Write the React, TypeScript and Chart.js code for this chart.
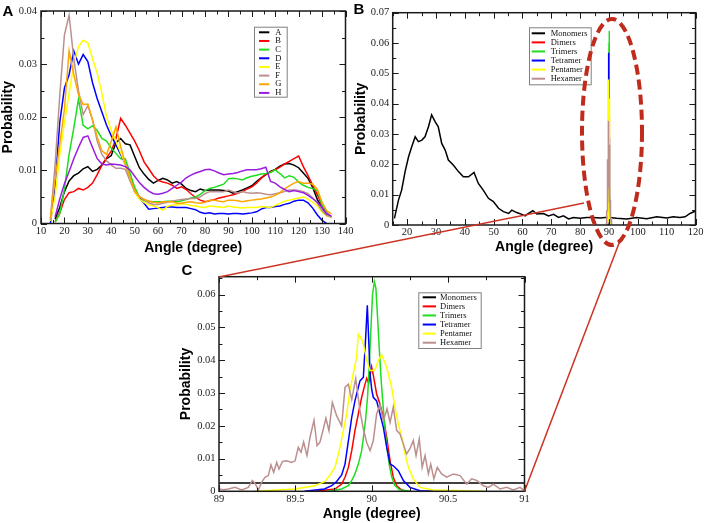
import React, { useEffect, useRef } from 'react';
import { Chart, registerables } from 'chart.js';

Chart.register(...registerables);

// ---------------- Panel A data ----------------
const A_ANGLES = [14, 16, 18, 20, 22, 24, 26, 28, 30, 32, 34, 36, 38, 40, 42, 44, 46, 48, 50, 52, 54, 56, 58, 60, 62, 64, 66, 68, 70, 72, 74, 76, 78, 80, 82, 84, 86, 88, 90, 92, 94, 96, 98, 100, 102, 104, 106, 108, 110, 112, 114, 116, 118, 120, 122, 124, 126, 128, 130, 132, 134];
const A_SERIES_A = [null, 0.0008, 0.003, 0.006, 0.008, 0.009, 0.0095, 0.0103, 0.0107, 0.0098, 0.0102, 0.011, 0.0122, 0.0128, 0.0152, 0.016, 0.015, 0.0148, 0.0126, 0.0105, 0.0093, 0.0083, 0.0076, 0.0081, 0.0085, 0.0082, 0.0076, 0.0079, 0.0074, 0.0066, 0.0062, 0.006, 0.0065, 0.0062, 0.0063, 0.0063, 0.0063, 0.0062, 0.0061, 0.0057, 0.006, 0.0063, 0.0067, 0.0071, 0.0079, 0.0086, 0.0092, 0.0098, 0.0102, 0.0108, 0.0112, 0.0113, 0.011, 0.0105, 0.0095, 0.0085, 0.0068, 0.0045, 0.003, 0.0016, 0.0012];
const A_SERIES_B = [null, 0.0003, 0.002, 0.0045, 0.0058, 0.006, 0.0066, 0.0063, 0.0068, 0.0076, 0.0092, 0.011, 0.0124, 0.0136, 0.016, 0.0198, 0.0185, 0.017, 0.0155, 0.0137, 0.0116, 0.0103, 0.009, 0.0081, 0.0078, 0.0076, 0.0072, 0.0066, 0.0069, 0.0064, 0.0056, 0.0049, 0.0044, 0.0041, 0.0043, 0.0045, 0.0048, 0.005, 0.0052, 0.0054, 0.0057, 0.006, 0.0065, 0.0069, 0.0076, 0.0085, 0.0093, 0.0097, 0.0101, 0.0106, 0.0112, 0.0117, 0.0122, 0.0127, 0.0107, 0.009, 0.0072, 0.0054, 0.0034, 0.002, 0.0012];
const A_SERIES_C = [null, 0.0002, 0.0018, 0.0065, 0.013, 0.018, 0.0234, 0.0185, 0.0178, 0.0184, 0.0175, 0.016, 0.0155, 0.0142, 0.0132, 0.0122, 0.0122, 0.0095, 0.0068, 0.005, 0.0043, 0.0042, 0.0041, 0.0041, 0.0041, 0.0042, 0.0042, 0.0041, 0.0043, 0.0045, 0.0048, 0.005, 0.0055, 0.0062, 0.0066, 0.0068, 0.0071, 0.0074, 0.0084, 0.0085, 0.0084, 0.0082, 0.0086, 0.0089, 0.0091, 0.0093, 0.0094, 0.0096, 0.0101, 0.0094, 0.0086, 0.009, 0.0087, 0.0078, 0.0072, 0.0068, 0.0066, 0.0062, 0.0035, 0.0019, 0.0012];
const A_SERIES_D = [0, 0.007, 0.019, 0.0255, 0.028, 0.0325, 0.03, 0.0318, 0.0305, 0.0265, 0.0235, 0.021, 0.0185, 0.0165, 0.0148, 0.013, 0.0112, 0.0085, 0.006, 0.0048, 0.0038, 0.0027, 0.0028, 0.0029, 0.003, 0.0031, 0.0031, 0.003, 0.003, 0.003, 0.0028, 0.0026, 0.0021, 0.0019, 0.002, 0.0018, 0.0019, 0.0019, 0.0018, 0.0019, 0.0019, 0.0018, 0.0019, 0.002, 0.0022, 0.0027, 0.003, 0.003, 0.0032, 0.0033, 0.0036, 0.0038, 0.0042, 0.0044, 0.0044, 0.0039, 0.0029, 0.0016, 0.0006, 0, null];
const A_SERIES_E = [0.0005, 0.005, 0.013, 0.019, 0.0245, 0.03, 0.0333, 0.0345, 0.034, 0.031, 0.0283, 0.0245, 0.02, 0.0175, 0.0155, 0.0133, 0.0112, 0.0085, 0.0058, 0.0046, 0.004, 0.0035, 0.0033, 0.003, 0.0025, 0.0032, 0.0035, 0.0035, 0.0037, 0.0036, 0.0034, 0.0033, 0.0031, 0.003, 0.0033, 0.0032, 0.0031, 0.003, 0.0033, 0.0031, 0.003, 0.0029, 0.003, 0.003, 0.003, 0.0032, 0.0031, 0.003, 0.0034, 0.0038, 0.0042, 0.0044, 0.0046, 0.0048, 0.005, 0.0046, 0.004, 0.0033, 0.0021, 0.0014, 0.0012];
const A_SERIES_F = [0.0007, 0.011, 0.024, 0.0355, 0.0392, 0.031, 0.025, 0.0205, 0.0222, 0.0195, 0.0155, 0.013, 0.0118, 0.011, 0.0104, 0.0104, 0.0102, 0.008, 0.006, 0.0051, 0.0045, 0.0039, 0.0036, 0.0036, 0.0038, 0.004, 0.0042, 0.0044, 0.0045, 0.0046, 0.0047, 0.0047, 0.005, 0.0056, 0.006, 0.006, 0.006, 0.006, 0.0063, 0.006, 0.0057, 0.006, 0.0058, 0.0057, 0.0058, 0.0057, 0.0055, 0.0054, 0.0056, 0.0058, 0.006, 0.0063, 0.0063, 0.0062, 0.006, 0.0056, 0.0048, 0.0038, 0.0024, 0.0015, 0.0012];
const A_SERIES_G = [0.001, 0.0082, 0.015, 0.0215, 0.0325, 0.028, 0.0243, 0.0224, 0.0225, 0.0195, 0.0163, 0.0137, 0.013, 0.0155, 0.0182, 0.0145, 0.0113, 0.0085, 0.0062, 0.005, 0.0046, 0.0042, 0.004, 0.0039, 0.0041, 0.0041, 0.0041, 0.0038, 0.0038, 0.004, 0.0041, 0.0039, 0.0038, 0.004, 0.0044, 0.0044, 0.0042, 0.0041, 0.0044, 0.0044, 0.0043, 0.0041, 0.0043, 0.0044, 0.0045, 0.0046, 0.0048, 0.005, 0.0053, 0.0058, 0.0065, 0.0071, 0.0076, 0.0079, 0.0076, 0.0076, 0.0074, 0.0064, 0.004, 0.0024, 0.0018];
const A_SERIES_H = [null, 0.0012, 0.0046, 0.0075, 0.0098, 0.0122, 0.0143, 0.0162, 0.0165, 0.0143, 0.0122, 0.0112, 0.011, 0.0112, 0.0111, 0.011, 0.0107, 0.0101, 0.0089, 0.0077, 0.0068, 0.0061, 0.0056, 0.0055, 0.0057, 0.006, 0.0066, 0.0072, 0.0078, 0.0086, 0.0091, 0.0095, 0.0098, 0.0101, 0.0102, 0.0099, 0.0095, 0.0092, 0.0093, 0.0094, 0.0096, 0.0099, 0.0101, 0.0101, 0.0101, 0.0103, 0.0106, 0.0079, 0.0076, 0.0069, 0.0064, 0.006, 0.0062, 0.006, 0.0058, 0.0053, 0.0047, 0.004, 0.003, 0.0018, 0.0014];
const A_NAMES = ['A', 'B', 'C', 'D', 'E', 'F', 'G', 'H'];
const A_COLORS = ['#000000', '#ff0000', '#1fdd1f', '#0000ff', '#ffff00', '#bc8f8f', '#ffa500', '#9a1ce0'];
const A_X_TICKS = [10, 20, 30, 40, 50, 60, 70, 80, 90, 100, 110, 120, 130, 140];
const A_Y_TICKS = [0, 0.01, 0.02, 0.03, 0.04];

// ---------------- Panel B / C data ----------------
const MONOMER_ANGLE = [15.6, 17.0, 18.1, 19.3, 20.5, 21.6, 22.8, 23.9, 25.1, 26.2, 27.4, 28.5, 29.7, 30.8, 32.0, 33.2, 34.3, 36.0, 37.8, 39.5, 41.3, 43.2, 44.7, 46.4, 48.2, 49.9, 51.7, 53.4, 55.2, 56.3, 58.0, 59.8, 60.9, 62.1, 63.6, 65.0, 67.3, 69.0, 70.8, 72.5, 74.2, 76.0, 77.7, 80.0, 82.3, 84.6, 86.9, 88.7, 90.0, 92.7, 96.2, 99.6, 103.1, 106.6, 110.0, 112.3, 114.6, 116.4, 118.1, 120.0];
const MONOMER_PROB = [0.0022, 0.0082, 0.0115, 0.0176, 0.0225, 0.0258, 0.0291, 0.0275, 0.028, 0.0291, 0.0324, 0.0363, 0.0341, 0.0324, 0.0269, 0.0247, 0.0214, 0.0198, 0.0176, 0.0159, 0.0159, 0.0173, 0.0137, 0.0115, 0.0088, 0.0077, 0.0055, 0.0044, 0.0038, 0.0049, 0.0041, 0.0035, 0.003, 0.0038, 0.0047, 0.0036, 0.0038, 0.003, 0.0035, 0.0025, 0.003, 0.002, 0.0025, 0.0022, 0.0025, 0.0025, 0.0023, 0.0025, 0.0025, 0.0022, 0.002, 0.0025, 0.0021, 0.0027, 0.0023, 0.0027, 0.0025, 0.0027, 0.0038, 0.0046];
const MONOMER_ZOOM_ANGLE = [89, 91];
const MONOMER_ZOOM_PROB = [0.0025, 0.0025];
const DIMER_ANGLE = [89.628, 89.759, 89.803, 89.825, 89.847, 89.869, 89.89, 89.912, 89.934, 89.956, 89.967, 89.98, 89.999, 90.01, 90.032, 90.054, 90.076, 90.098, 90.12, 90.141, 90.163, 90.196, 90.23];
const DIMER_PROB = [0, 0.0007, 0.0022, 0.0043, 0.0073, 0.0124, 0.0185, 0.0236, 0.0287, 0.0327, 0.0345, 0.033, 0.038, 0.0355, 0.0297, 0.0266, 0.0226, 0.0165, 0.0093, 0.0043, 0.0017, 0.0004, 0];
const TRIMER_ANGLE = [89.716, 89.803, 89.847, 89.869, 89.89, 89.912, 89.934, 89.947, 89.96, 89.973, 89.985, 89.995, 90.005, 90.017, 90.027, 90.037, 90.05, 90.063, 90.076, 90.089, 90.1, 90.115, 90.13, 90.15, 90.18, 90.25];
const TRIMER_PROB = [0, 0.0007, 0.0017, 0.0033, 0.0053, 0.0083, 0.0124, 0.017, 0.022, 0.029, 0.04, 0.05, 0.06, 0.064, 0.062, 0.054, 0.043, 0.033, 0.025, 0.018, 0.013, 0.008, 0.0045, 0.0018, 0.0005, 0];
const TETRAMER_ANGLE = [89.56, 89.69, 89.738, 89.77, 89.803, 89.825, 89.847, 89.869, 89.89, 89.912, 89.923, 89.945, 89.958, 89.971, 89.989, 90.0, 90.01, 90.032, 90.054, 90.076, 90.098, 90.12, 90.141, 90.174, 90.207, 90.25, 90.316, 90.4];
const TETRAMER_PROB = [0, 0.0007, 0.0017, 0.003, 0.005, 0.0083, 0.0154, 0.0226, 0.0276, 0.0317, 0.0337, 0.0348, 0.045, 0.0568, 0.0358, 0.031, 0.0287, 0.0276, 0.0236, 0.0195, 0.0134, 0.0083, 0.0078, 0.0063, 0.0033, 0.0012, 0.0002, 0];
const PENTAMER_ANGLE = [89.236, 89.498, 89.628, 89.694, 89.727, 89.759, 89.792, 89.814, 89.836, 89.858, 89.879, 89.901, 89.912, 89.934, 89.945, 89.967, 89.989, 90.021, 90.043, 90.065, 90.098, 90.13, 90.152, 90.174, 90.196, 90.218, 90.24, 90.272, 90.316, 90.403, 90.73];
const PENTAMER_PROB = [0, 0.0007, 0.0017, 0.003, 0.005, 0.0073, 0.0134, 0.0185, 0.0236, 0.031, 0.036, 0.041, 0.048, 0.0464, 0.045, 0.04, 0.0368, 0.037, 0.04, 0.0417, 0.0378, 0.0317, 0.0256, 0.0205, 0.0165, 0.0114, 0.0073, 0.0038, 0.0012, 0.0004, 0];
const HEXAMER_ANGLE = [89.0, 89.03, 89.061, 89.105, 89.148, 89.192, 89.218, 89.236, 89.258, 89.279, 89.301, 89.323, 89.34, 89.358, 89.378, 89.393, 89.415, 89.443, 89.476, 89.498, 89.519, 89.537, 89.554, 89.576, 89.596, 89.622, 89.642, 89.661, 89.683, 89.7, 89.72, 89.742, 89.77, 89.803, 89.825, 89.847, 89.869, 89.895, 89.923, 89.945, 89.967, 89.989, 90.01, 90.032, 90.054, 90.076, 90.1, 90.12, 90.141, 90.163, 90.185, 90.207, 90.228, 90.25, 90.272, 90.29, 90.311, 90.33, 90.349, 90.371, 90.386, 90.407, 90.429, 90.457, 90.49, 90.534, 90.578, 90.622, 90.654, 90.687, 90.731, 90.764, 90.796, 90.84, 90.883, 90.927, 90.971, 91.0];
const HEXAMER_PROB = [0.0007, 0.0005, 0.0007, 0.0012, 0.0004, 0.0012, 0.0033, 0.0024, 0.0004, 0.0027, 0.0043, 0.0048, 0.0081, 0.0058, 0.0088, 0.0068, 0.0091, 0.0093, 0.0088, 0.0093, 0.0134, 0.0119, 0.015, 0.0109, 0.0165, 0.0217, 0.0139, 0.015, 0.019, 0.0223, 0.0185, 0.0271, 0.0231, 0.02, 0.0317, 0.0327, 0.028, 0.0344, 0.0246, 0.019, 0.0149, 0.0124, 0.0154, 0.0236, 0.0265, 0.0215, 0.0252, 0.021, 0.0257, 0.0186, 0.0175, 0.0144, 0.0114, 0.013, 0.0155, 0.0109, 0.016, 0.0073, 0.0109, 0.0053, 0.0083, 0.0038, 0.0073, 0.0053, 0.0043, 0.0053, 0.0048, 0.0022, 0.0038, 0.0033, 0.0017, 0.0012, 0.0022, 0.0007, 0.0012, 0.0004, 0.0012, 0.0002];
const CLUSTER_NAMES = ['Monomers', 'Dimers', 'Trimers', 'Tetramer', 'Pentamer', 'Hexamer'];
const CLUSTER_COLORS = ['#000000', '#ff0000', '#1fdd1f', '#0000ff', '#ffff00', '#bc8f8f'];
const B_X_TICKS = [20, 30, 40, 50, 60, 70, 80, 90, 100, 110, 120];
const B_Y_TICKS = [0, 0.01, 0.02, 0.03, 0.04, 0.05, 0.06, 0.07];
const C_X_TICKS = [89, 89.5, 90, 90.5, 91];
const C_Y_TICKS = [0, 0.01, 0.02, 0.03, 0.04, 0.05, 0.06];

const X_TITLE = 'Angle (degree)';
const Y_TITLE = 'Probability';

// ---------------- helpers ----------------
function pairs(xs: number[], ys: (number | null)[]) {
  const n = Math.min(xs.length, ys.length);
  const out: { x: number; y: number | null }[] = [];
  for (let i = 0; i < n; i++) out.push({ x: xs[i], y: ys[i] });
  return out;
}

function lineSet(label: string, color: string, data: any[], order: number) {
  return {
    label,
    data,
    borderColor: color,
    backgroundColor: color,
    borderWidth: 1.5,
    pointRadius: 0,
    fill: false,
    tension: 0,
    order,
  };
}

type Frame = { xMajor: number; xMinor: number; yMajor: number; yMinor: number };
type LegendSpec = { left: number; top: number; width: number; height: number; lineX1: number; lineX2: number; textX: number; firstY: number; step: number; fontSize: number };

function stepsIn(min: number, max: number, step: number) {
  const out: number[] = [];
  const s = Math.ceil(min / step - 1e-6);
  const e = Math.floor(max / step + 1e-6);
  for (let i = s; i <= e; i++) out.push(i * step);
  return out;
}

function framePlugin(f: Frame) {
  return {
    id: 'frameTicks',
    afterDatasetsDraw(chart: any) {
      const { ctx, chartArea: a, scales } = chart;
      const xs = scales.x;
      const ys = scales.y;
      ctx.save();
      ctx.strokeStyle = '#1a1a1a';
      ctx.lineWidth = 1;
      ctx.beginPath();
      const xDefs: [number, number][] = [[f.xMajor, 6], [f.xMinor, 3.5]];
      xDefs.forEach(([step, len]) => {
        stepsIn(xs.min, xs.max, step).forEach((v) => {
          const px = Math.round(xs.getPixelForValue(v)) + 0.5;
          ctx.moveTo(px, a.bottom);
          ctx.lineTo(px, a.bottom - len);
          ctx.moveTo(px, a.top);
          ctx.lineTo(px, a.top + len);
        });
      });
      const yDefs: [number, number][] = [[f.yMajor, 6], [f.yMinor, 3.5]];
      yDefs.forEach(([step, len]) => {
        stepsIn(ys.min, ys.max, step).forEach((v) => {
          const py = Math.round(ys.getPixelForValue(v)) + 0.5;
          ctx.moveTo(a.left, py);
          ctx.lineTo(a.left + len, py);
          ctx.moveTo(a.right, py);
          ctx.lineTo(a.right - len, py);
        });
      });
      ctx.stroke();
      ctx.lineWidth = 1.5;
      ctx.strokeRect(a.left, a.top, a.right - a.left, a.bottom - a.top);
      ctx.restore();
    },
  };
}

function boxLegend(s: LegendSpec) {
  return {
    id: 'boxLegend',
    afterDraw(chart: any) {
      const ctx = chart.ctx;
      ctx.save();
      ctx.fillStyle = '#ffffff';
      ctx.fillRect(s.left, s.top, s.width, s.height);
      ctx.strokeStyle = '#808080';
      ctx.lineWidth = 1;
      ctx.strokeRect(s.left + 0.5, s.top + 0.5, s.width, s.height);
      ctx.font = `${s.fontSize}px "Liberation Serif", "Times New Roman", serif`;
      ctx.textBaseline = 'middle';
      ctx.textAlign = 'left';
      chart.data.datasets.forEach((ds: any, i: number) => {
        const y = s.firstY + i * s.step;
        ctx.strokeStyle = ds.borderColor;
        ctx.lineWidth = 2;
        ctx.beginPath();
        ctx.moveTo(s.lineX1, y);
        ctx.lineTo(s.lineX2, y);
        ctx.stroke();
        ctx.fillStyle = '#111111';
        ctx.fillText(ds.label, s.textX, y);
      });
      ctx.restore();
    },
  };
}

const tickFont = { family: '"Liberation Serif", "Times New Roman", serif', size: 10.5 };
const titleFont = { family: '"Liberation Sans", Arial, sans-serif', size: 14, weight: 'bold' as const };
const fmt = (v: any) => String(Math.round(Number(v) * 1000) / 1000);

type PanelSpec = {
  datasets: any[];
  xMin: number; xMax: number; yMin: number; yMax: number;
  xTicks: number[]; yTicks: number[];
  yAxisWidth: number; xAxisHeight: number; padTop: number; padRight: number;
  yTitlePad: number; xTitlePad: number; yTickPad: number; xTickPad: number;
  frame: Frame; legend: LegendSpec;
};

function makeConfig(p: PanelSpec): any {
  return {
    type: 'line',
    data: { datasets: p.datasets },
    options: {
      animation: false,
      responsive: false,
      maintainAspectRatio: false,
      events: [],
      layout: { padding: { top: p.padTop, right: p.padRight, left: 0, bottom: 0 } },
      plugins: { legend: { display: false }, tooltip: { enabled: false }, title: { display: false } },
      scales: {
        x: {
          type: 'linear',
          min: p.xMin,
          max: p.xMax,
          afterBuildTicks: (s: any) => { s.ticks = p.xTicks.map((v) => ({ value: v })); },
          afterFit: (s: any) => { s.height = p.xAxisHeight; s.paddingLeft = 0; s.paddingRight = 0; },
          grid: { display: false, drawTicks: false },
          border: { display: false },
          ticks: { padding: p.xTickPad, font: tickFont, color: '#222222', maxRotation: 0, minRotation: 0, autoSkip: false, callback: fmt },
          title: { display: true, text: X_TITLE, font: titleFont, color: '#000000', padding: { top: 0, bottom: p.xTitlePad } },
        },
        y: {
          type: 'linear',
          min: p.yMin,
          max: p.yMax,
          afterBuildTicks: (s: any) => { s.ticks = p.yTicks.map((v) => ({ value: v })); },
          afterFit: (s: any) => { s.width = p.yAxisWidth; s.paddingTop = 0; s.paddingBottom = 0; },
          grid: { display: false, drawTicks: false },
          border: { display: false },
          ticks: { padding: p.yTickPad, font: tickFont, color: '#222222', autoSkip: false, callback: fmt },
          title: { display: true, text: Y_TITLE, font: titleFont, color: '#000000', padding: { top: p.yTitlePad, bottom: 0 } },
        },
      },
    },
    plugins: [framePlugin(p.frame), boxLegend(p.legend)],
  };
}

const A_DATA = [A_SERIES_A, A_SERIES_B, A_SERIES_C, A_SERIES_D, A_SERIES_E, A_SERIES_F, A_SERIES_G, A_SERIES_H];

const specA: PanelSpec = {
  datasets: A_DATA.map((ys, i) => lineSet(A_NAMES[i], A_COLORS[i], pairs(A_ANGLES, ys), A_DATA.length - i)),
  xMin: 10, xMax: 140, yMin: 0, yMax: 0.04,
  xTicks: A_X_TICKS, yTicks: A_Y_TICKS,
  yAxisWidth: 41, xAxisHeight: 38.5, padTop: 11, padRight: 12.5,
  yTitlePad: 0, xTitlePad: 5.3, yTickPad: 4, xTickPad: 1,
  frame: { xMajor: 10, xMinor: 5, yMajor: 0.01, yMinor: 0.005 },
  legend: { left: 254, top: 26.7, width: 32.7, height: 70, lineX1: 259, lineX2: 269.3, textX: 275.3, firstY: 32.3, step: 8.66, fontSize: 8.5 },
};

const CLUSTER_ZOOM = [
  pairs(DIMER_ANGLE, DIMER_PROB),
  pairs(TRIMER_ANGLE, TRIMER_PROB),
  pairs(TETRAMER_ANGLE, TETRAMER_PROB),
  pairs(PENTAMER_ANGLE, PENTAMER_PROB),
  pairs(HEXAMER_ANGLE, HEXAMER_PROB),
];

const specB: PanelSpec = {
  datasets: [pairs(MONOMER_ANGLE, MONOMER_PROB), ...CLUSTER_ZOOM].map((d, i) => lineSet(CLUSTER_NAMES[i], CLUSTER_COLORS[i], d, 6 - i)),
  xMin: 15, xMax: 120, yMin: 0, yMax: 0.07,
  xTicks: B_X_TICKS, yTicks: B_Y_TICKS,
  yAxisWidth: 42.7, xAxisHeight: 37, padTop: 12.7, padRight: 12.5,
  yTitlePad: 2.9, xTitlePad: 6.1, yTickPad: 3.5, xTickPad: 1,
  frame: { xMajor: 10, xMinor: 5, yMajor: 0.01, yMinor: 0.005 },
  legend: { left: 179, top: 27.3, width: 61.7, height: 57, lineX1: 181.7, lineX2: 195, textX: 200.7, firstY: 33.3, step: 9.08, fontSize: 8.5 },
};

const specC: PanelSpec = {
  datasets: [pairs(MONOMER_ZOOM_ANGLE, MONOMER_ZOOM_PROB), ...CLUSTER_ZOOM].map((d, i) => lineSet(CLUSTER_NAMES[i], CLUSTER_COLORS[i], d, 6 - i)),
  xMin: 89, xMax: 91, yMin: 0, yMax: 0.0655,
  xTicks: C_X_TICKS, yTicks: C_Y_TICKS,
  yAxisWidth: 59, xAxisHeight: 31.7, padTop: 14.7, padRight: 15.5,
  yTitlePad: 18.1, xTitlePad: 0.6, yTickPad: 3.5, xTickPad: 1.4,
  frame: { xMajor: 0.5, xMinor: 0.25, yMajor: 0.01, yMinor: 0.005 },
  legend: { left: 258.3, top: 30.3, width: 62.4, height: 55.7, lineX1: 262.7, lineX2: 276, textX: 280, firstY: 35.3, step: 9.08, fontSize: 8.5 },
};

function Panel({ spec, left, top, width, height }: { spec: PanelSpec; left: number; top: number; width: number; height: number }) {
  const ref = useRef<HTMLCanvasElement | null>(null);
  useEffect(() => {
    if (!ref.current) return;
    const chart = new Chart(ref.current, makeConfig(spec));
    return () => chart.destroy();
  }, [spec]);
  return (
    <canvas
      ref={ref}
      width={width}
      height={height}
      style={{ position: 'absolute', left, top, width, height }}
    />
  );
}

const letterStyle = { fontFamily: '"Liberation Sans", Arial, sans-serif', fontWeight: 700, fontSize: 15 } as const;

export default function App() {
  return (
    <div style={{ position: 'absolute', left: 0, top: 0, width: 708, height: 523, background: '#ffffff', overflow: 'hidden' }}>
      <Panel spec={specA} left={0} top={0} width={358} height={262} />
      <Panel spec={specB} left={350} top={0} width={358} height={262} />
      <Panel spec={specC} left={160} top={262} width={380} height={261} />
      <svg width={708} height={523} style={{ position: 'absolute', left: 0, top: 0, pointerEvents: 'none' }}>
        <line x1={219} y1={277} x2={584} y2={203} stroke="#cc3322" strokeWidth={1.5} />
        <line x1={524.5} y1={491.3} x2={621} y2={238} stroke="#cc3322" strokeWidth={1.5} />
        <ellipse cx={612} cy={132} rx={30} ry={113} fill="none" stroke="#c02c1c" strokeWidth={4} strokeDasharray="10 5" />
        <text x={8} y={10} textAnchor="middle" dominantBaseline="central" style={letterStyle}>A</text>
        <text x={359} y={8} textAnchor="middle" dominantBaseline="central" style={letterStyle}>B</text>
        <text x={187} y={269} textAnchor="middle" dominantBaseline="central" style={letterStyle}>C</text>
      </svg>
    </div>
  );
}
